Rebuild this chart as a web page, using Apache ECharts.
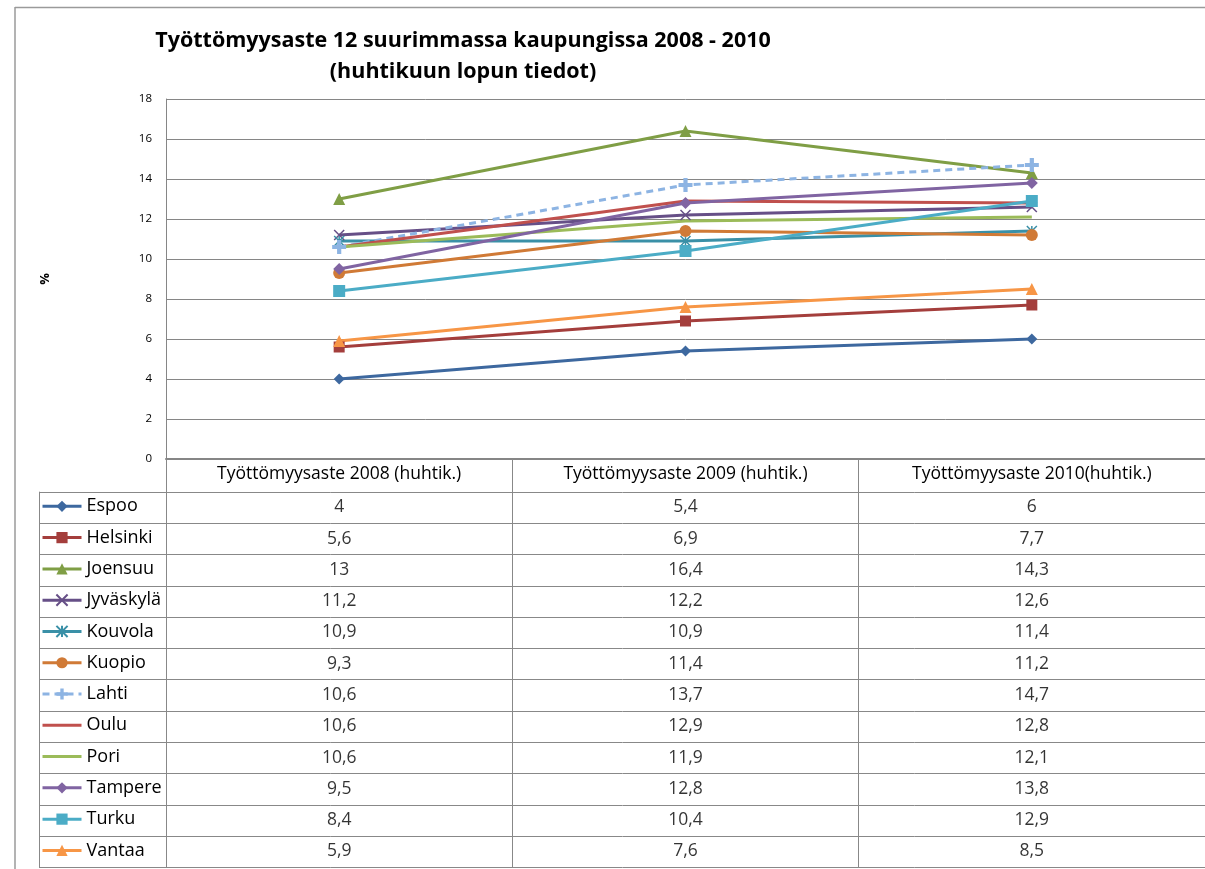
<!DOCTYPE html>
<html>
<head>
<meta charset="utf-8">
<script src="https://cdn.jsdelivr.net/npm/echarts@6/dist/echarts.min.js"></script>
<style>
  html, body { margin: 0; padding: 0; background: #fff; }
  #chart { width: 1205px; height: 869px; }
</style>
</head>
<body>
<div id="chart"></div>
<script>
// data
const categories = ['Työttömyysaste 2008 (huhtik.)', 'Työttömyysaste 2009 (huhtik.)', 'Työttömyysaste 2010(huhtik.)']
const cities = ['Espoo', 'Helsinki', 'Joensuu', 'Jyväskylä', 'Kouvola', 'Kuopio', 'Lahti', 'Oulu', 'Pori', 'Tampere', 'Turku', 'Vantaa']
const espoo = [4, 5.4, 6]
const helsinki = [5.6, 6.9, 7.7]
const joensuu = [13, 16.4, 14.3]
const jyvaskyla = [11.2, 12.2, 12.6]
const kouvola = [10.9, 10.9, 11.4]
const kuopio = [9.3, 11.4, 11.2]
const lahti = [10.6, 13.7, 14.7]
const oulu = [10.6, 12.9, 12.8]
const pori = [10.6, 11.9, 12.1]
const tampere = [9.5, 12.8, 13.8]
const turku = [8.4, 10.4, 12.9]
const vantaa = [5.9, 7.6, 8.5]
const values = [espoo, helsinki, joensuu, jyvaskyla, kouvola, kuopio, lahti, oulu, pori, tampere, turku, vantaa]
const yTicks = { min: 0, max: 18, interval: 2 }

const colors = ['#3D689F', '#A43E3C', '#7F9E45', '#664F87', '#3A90A7', '#D07A36',
  '#8DB4E3', '#C0504D', '#9BBB59', '#8064A2', '#4BACC6', '#F79646']

const X_PATH = 'path://M0,0L10,10M10,0L0,10'
const STAR_PATH = 'path://M0,0L10,10M10,0L0,10M5,0L5,10'
const PLUS_PATH = 'path://M3.5,0H6.5V3.5H10V6.5H6.5V10H3.5V6.5H0V3.5H3.5Z'
const symbols = ['diamond', 'rect', 'triangle', X_PATH, STAR_PATH, 'circle', PLUS_PATH, 'none', 'none', 'diamond', 'rect', 'triangle']
const sizes = [11, 11, 12, 10, 10, 12, 14, 0, 0, 12, 12, 12]

const font = '"Open Sans", sans-serif'
const gridLeft = 166
const gridTop = 99
const gridW = 1044
const gridH = 360
const rowTop = 491.7
const rowH = 31.28
const tableLeft = 39
const legendItemH = 18

const chart = echarts.init(document.getElementById('chart'))

const lineSeries = cities.map((c, i) => {
  const stroked = symbols[i] === X_PATH || symbols[i] === STAR_PATH
  const noMark = symbols[i] === 'none'
  return {
    name: c,
    type: 'line',
    data: values[i],
    symbol: noMark ? 'rect' : symbols[i],
    symbolSize: sizes[i],
    showSymbol: !noMark,
    lineStyle: { width: 3, color: colors[i], type: c === 'Lahti' ? [7, 5] : 'solid' },
    itemStyle: stroked
      ? { color: 'rgba(0,0,0,0)', borderColor: colors[i], borderWidth: 1.5 }
      : noMark ? { color: 'rgba(0,0,0,0)' } : { color: colors[i] },
    z: 3
  }
})

// data table values, drawn through the second grid's axes
const tableData = []
cities.forEach((c, i) => {
  values[i].forEach((v, j) => tableData.push([j, i, v]))
})

const graphics = []
// outer border
graphics.push({ type: 'line', shape: { x1: 15, y1: 7.5, x2: 1205, y2: 7.5 }, style: { stroke: '#9a9a9a', lineWidth: 1.5 } })
graphics.push({ type: 'line', shape: { x1: 15, y1: 7, x2: 15, y2: 869 }, style: { stroke: '#9a9a9a', lineWidth: 1.5 } })
// table row lines
for (let r = 0; r <= cities.length; r++) {
  const y = Math.round(rowTop + r * rowH) + 0.5
  graphics.push({ type: 'line', shape: { x1: tableLeft, y1: y, x2: 1210, y2: y }, style: { stroke: '#888', lineWidth: 1 } })
}
graphics.push({ type: 'line', shape: { x1: tableLeft + 0.5, y1: rowTop, x2: tableLeft + 0.5, y2: rowTop + cities.length * rowH }, style: { stroke: '#888', lineWidth: 1 } })

chart.setOption({
  animation: false,
  textStyle: { fontFamily: font },
  title: {
    text: 'Työttömyysaste 12 suurimmassa kaupungissa 2008 - 2010\n(huhtikuun lopun tiedot)',
    left: 458,
    top: 20,
    textAlign: 'center',
    textStyle: { fontFamily: font, fontSize: 21.5, fontWeight: 'bold', color: '#000', lineHeight: 31 }
  },
  legend: {
    data: cities,
    orient: 'vertical',
    left: 41,
    top: rowTop + (rowH - legendItemH) / 2 - 1,
    padding: 0,
    height: 420,
    itemWidth: 39,
    itemHeight: 14,
    itemGap: rowH - legendItemH,
    lineStyle: { width: 3 },
    textStyle: { fontFamily: font, fontSize: 18, color: '#000' },
    selectedMode: false
  },
  grid: [
    { left: gridLeft, top: gridTop, width: gridW, height: gridH },
    { left: gridLeft, top: rowTop, width: gridW, height: rowH * cities.length }
  ],
  xAxis: [
    {
      type: 'category',
      gridIndex: 0,
      data: categories,
      boundaryGap: true,
      axisLine: { lineStyle: { color: '#868686', width: 2 } },
      axisTick: { show: true, length: rowTop - gridTop - gridH + rowH * cities.length, lineStyle: { color: '#888', width: 1 } },
      axisLabel: { color: '#000', fontSize: 17.5, margin: 6, fontFamily: font },
      splitLine: { show: false }
    },
    {
      type: 'category',
      gridIndex: 1,
      data: categories,
      boundaryGap: true,
      show: false
    }
  ],
  yAxis: [
    {
      type: 'value',
      gridIndex: 0,
      min: yTicks.min,
      max: yTicks.max,
      interval: yTicks.interval,
      name: '%',
      nameLocation: 'middle',
      nameGap: 114,
      nameRotate: 90,
      nameTextStyle: { fontSize: 13, fontWeight: 'bold', color: '#000' },
      axisLine: { show: true, lineStyle: { color: '#868686' } },
      axisTick: { show: false },
      axisLabel: { color: '#000', fontSize: 11.5, margin: 14 },
      splitLine: { lineStyle: { color: '#868686', width: 1 } }
    },
    {
      type: 'category',
      gridIndex: 1,
      data: cities,
      inverse: true,
      show: false
    }
  ],
  series: lineSeries.concat([{
    name: 'taulukko',
    type: 'scatter',
    xAxisIndex: 1,
    yAxisIndex: 1,
    data: tableData,
    symbolSize: 0,
    silent: true,
    label: {
      show: true,
      position: 'inside',
      fontFamily: font,
      fontSize: 17.5,
      color: '#000',
      formatter: p => String(p.value[2]).replace('.', ',')
    }
  }]),
  graphic: graphics
})
</script>
</body>
</html>
